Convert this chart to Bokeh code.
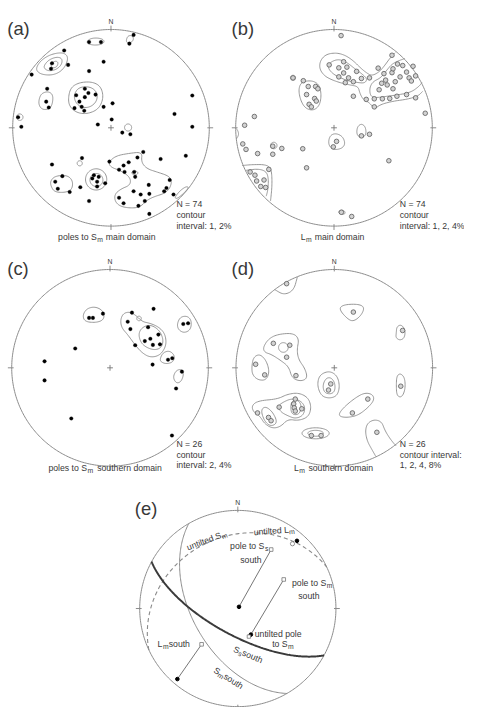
import numpy as np
from bokeh.plotting import figure
from bokeh.models import Range1d
from bokeh.embed import file_html
from bokeh.resources import INLINE
from bokeh.core.properties import value

# ---------------- DATA (net coordinates, primitive radius = 100, x = east, y = north) -------------
A_PTS = [(23.0,94.5),(18.7,85.6),(-22.3,87.2),(-10.2,87.2),(-47.6,78.7),(-60.0,65.6),(-61.0,60.0),(-43.6,64.0),
         (-7.5,67.2),(-22.3,57.7),(-80.7,54.1),(-64.9,39.7),(-65.9,26.6),(-63.3,20.7),(-26.6,39.7),(-23.0,35.4),
         (-35.4,33.1),(-15.7,33.8),(-26.6,31.2),(-32.1,26.6),(-29.8,21.3),(-37.1,20.0),(-27.2,17.4),(-7.5,21.3),
         (1.6,24.9),(82.7,32.8),(64.6,14.1),(-94.5,10.8),(-91.2,1.0),(0.7,8.5),(-13.4,3.3),(82.7,1.0),(11.5,-4.9),
         (19.7,-6.6),(32.8,-24.6),(76.1,-28.5),(50.5,-31.8),(-29.5,-30.8),(-60.0,-37.4),(-1.6,-34.4),(12.8,-38.4),
         (18.0,-35.1),(26.9,-30.2),(8.2,-42.6),(23.6,-44.9),(24.6,-49.9),(13.8,-44.9),(-17.4,-48.2),(-19.0,-51.5),
         (-12.5,-49.9),(-14.1,-54.8),(-5.9,-56.4),(-14.1,-59.7),(-49.5,-49.2),(-56.7,-54.8),(-54.1,-62.0),
         (-42.0,-65.3),(-31.2,-60.4),(38.4,-58.1),(59.7,-53.1),(56.4,-61.3),(54.1,-64.6),(30.2,-67.9),(23.0,-64.6),
         (39.0,-67.2),(8.2,-71.2),(12.8,-76.8),(27.9,-79.4),(34.4,-74.5),(-22.3,-74.5),(39.0,-87.6),(63.6,-67.9)]

A_CLOSED = [
    [(-24.6,87.9),(-20.7,90.9),(-14.1,91.5),(-8.2,90.2),(-6.6,87.2),(-10.2,84.6),(-17.4,84.0),(-23.3,85.3)],
    [(15.4,88.9),(17.1,93.5),(21.3,94.1),(23.3,90.2),(20.3,86.3),(16.4,86.3)],
    [(-75.8,61.7),(-71.5,68.2),(-63.3,73.8),(-53.5,76.4),(-46.9,75.8),(-43.6,71.5),(-45.9,63.3),(-51.8,56.7),
     (-60.0,53.5),(-69.9,54.1),(-75.4,57.4)],
    [(-68.2,63.3),(-63.3,69.2),(-55.1,72.2),(-49.5,70.5),(-50.2,64.0),(-56.1,59.0),(-63.3,57.7),(-67.6,60.0)],
    [(-61.3,64.9),(-56.7,68.2),(-53.5,66.6),(-55.1,61.7),(-60.0,60.7)],
    [(-73.1,29.8),(-70.5,35.1),(-64.0,37.1),(-59.0,33.8),(-59.4,24.6),(-62.6,19.0),(-69.9,18.4),(-73.5,23.3)],
    [(-43.6,29.8),(-41.0,41.0),(-32.1,46.2),(-19.0,46.9),(-10.2,42.0),(-7.5,30.5),(-12.5,19.0),(-23.9,14.1),
     (-34.4,15.1),(-42.0,21.3)],
    [(-37.7,33.8),(-32.8,41.3),(-21.3,42.0),(-14.1,36.4),(-14.1,27.2),(-21.3,20.7),(-30.5,20.7),(-36.4,26.2)],
    [(-61.7,-54.1),(-56.7,-48.9),(-44.3,-48.2),(-38.7,-54.1),(-39.7,-63.0),(-46.9,-65.9),(-57.4,-65.3),(-61.0,-59.7)],
    [(-2.6,-35.1),(4.9,-28.5),(18.7,-25.9),(31.8,-24.6),(30.8,-35.1),(36.7,-41.7),(46.6,-44.9),(58.7,-48.9),
     (62.0,-54.1),(59.7,-62.0),(54.1,-66.9),(44.3,-69.9),(36.7,-73.5),(29.2,-81.0),(18.7,-81.7),(8.9,-79.7),
     (3.9,-74.5),(3.9,-67.2),(10.5,-62.0),(18.7,-58.7),(20.3,-53.5),(17.1,-48.2),(8.9,-43.3),(-0.3,-40.0)],
    [(20.3,-45.6),(23.6,-43.6),(27.6,-44.9),(26.9,-47.6),(23.0,-47.9)],
    [(64.6,-71.2),(69.5,-64.6),(76.1,-59.7),(79.4,-60.4),(74.5,-66.3),(67.2,-72.2)],
]
A_LOOPS = [(-92.8,10.8,3.3),(17.4,0.3,3.6),(-31.8,-36.1,2.6),(-15.1,-52.5,10.8),(-14.8,-53.1,6.6)]

B_PTS = [(7.2,93.8),(-4.9,64.0),(4.9,61.0),(9.8,67.2),(13.1,61.7),(9.8,55.8),(4.9,51.8),(14.8,50.8),(19.7,46.9),
         (23.0,57.4),(27.9,50.2),(36.1,50.8),(44.9,60.7),(50.8,55.1),(52.5,48.5),(59.0,56.1),(60.0,60.0),(59.0,73.8),
         (64.6,64.9),(69.9,63.3),(73.8,56.7),(76.4,50.8),(78.7,47.6),(67.2,51.8),(62.3,46.9),(60.0,39.7),(54.1,43.6),
         (48.5,45.3),(45.9,38.7),(41.0,29.5),(32.8,28.9),(19.7,32.1),(11.5,45.9),(41.0,21.3),(49.2,29.5),(56.7,29.8),
         (64.0,32.1),(73.8,33.8),(83.0,30.5),(83.0,52.8),(80.4,62.6),(-41.7,50.8),(-31.2,47.9),(-26.2,42.0),
         (-18.7,42.0),(-16.4,39.7),(-27.9,33.8),(-19.7,29.8),(-18.0,27.2),(-25.3,23.9),(-23.0,21.3),(92.8,14.8),
         (-81.0,11.5),(-90.9,2.6),(27.9,-8.2),(36.1,-6.6),(2.6,-13.8),(-0.7,-19.4),(-92.8,-16.4),(-89.5,-22.0),
         (-77.7,-26.2),(-62.3,-18.7),(-53.1,-21.0),(-62.3,-26.9),(-31.8,-21.3),(55.8,-33.5),(-27.9,-40.7),
         (-66.3,-42.3),(-85.3,-44.9),(-80.4,-48.2),(-71.2,-53.1),(-78.7,-54.1),(-74.5,-59.7),(-69.5,-60.7),
         (7.5,-85.9),(18.0,-90.2)]

B_OPEN = [
    [(62.3,76.4),(57.4,71.5),(51.5,63.3),(45.9,56.7),(38.4,52.8),(32.8,56.1),(27.2,60.7),(19.7,68.2),(11.5,73.8),
     (2.3,76.4),(-8.2,74.8),(-14.1,68.2),(-14.8,60.0),(-9.8,52.8),(-1.6,48.5),(8.2,45.3),(16.4,43.6),(24.6,42.0),
     (26.2,35.4),(29.5,28.9),(36.1,25.6),(41.0,19.0),(47.6,23.9),(60.7,27.2),(73.8,28.9),(85.3,32.1),(90.2,37.1)],
    [(72.2,70.5),(65.6,68.2),(59.0,64.9),(53.5,58.4),(47.6,50.8),(39.4,46.9),(36.1,40.3),(37.1,32.1),(42.6,30.5),
     (54.1,32.1),(67.2,33.8),(78.7,36.4),(86.3,42.0),(89.5,45.9)],
    [(-93.5,-38.4),(-83.6,-37.4),(-68.9,-37.4),(-64.0,-41.7),(-63.0,-51.5),(-63.3,-63.0),(-64.6,-74.5)],
    [(-89.5,-43.3),(-77.1,-41.7),(-68.9,-44.3),(-66.6,-51.5),(-67.2,-63.0),(-68.9,-69.5)],
    [(-99.5,-0.7),(-97.7,-3.0),(-96.8,-7.2),(-99.4,-11.5)],
]
B_CLOSED = [
    [(-6.6,61.7),(-3.3,67.2),(4.9,69.9),(13.1,66.6),(21.3,60.0),(29.5,54.1),(33.8,49.5),(31.2,45.3),(23.0,46.2),
     (14.8,47.6),(6.6,50.8),(-1.6,55.1)],
    [(-36.1,39.7),(-32.8,46.9),(-22.0,48.2),(-14.8,43.6),(-12.8,33.1),(-14.8,22.3),(-21.3,17.4),(-29.5,20.0),(-34.4,28.9)],
    [(23.0,-7.2),(23.6,1.0),(27.9,4.3),(32.1,1.0),(32.8,-7.2),(27.9,-10.5)],
    [(-5.6,-12.8),(-3.3,-7.2),(2.3,-5.6),(8.9,-8.9),(11.5,-16.1),(8.2,-21.0),(0.0,-22.6),(-4.9,-18.7)],
    [(4.3,-85.9),(6.6,-83.6),(10.8,-84.3),(11.5,-87.6),(7.5,-88.2)],
]
B_LOOPS = [(-41.7,50.8,2.6),(-61.3,-18.0,3.3)]

C_PTS = [(-21.3,50.8),(-17.4,50.8),(-7.2,55.1),(22.3,56.1),(44.3,60.0),(18.0,46.9),(20.7,39.4),(38.7,41.3),
         (49.2,33.8),(41.0,29.5),(35.4,27.2),(43.6,23.3),(50.8,23.9),(25.6,23.0),(74.5,44.6),(79.4,45.3),
         (-35.4,19.7),(59.0,8.2),(63.3,9.8),(-66.6,6.6),(43.3,3.3),(-66.6,-12.8),(73.1,-3.9),(67.2,-21.0),
         (-39.4,-51.5),(63.0,-68.9)]
C_CLOSED = [
    [(-27.9,53.5),(-23.6,60.4),(-14.8,62.3),(-6.6,57.7),(-5.9,49.2),(-13.8,45.9),(-25.6,46.9)],
    [(10.5,47.9),(13.1,55.1),(19.7,57.1),(26.2,53.5),(32.8,46.9),(41.0,45.3),(49.9,41.3),(55.8,34.8),(57.4,24.9),
     (54.1,16.7),(48.5,11.8),(40.3,10.8),(32.8,15.1),(26.2,22.3),(18.0,33.8),(12.1,40.3)],
    [(28.9,34.8),(32.8,41.3),(41.0,44.0),(49.9,38.7),(54.4,28.9),(52.5,20.7),(45.9,18.0),(37.7,20.3),(31.2,25.6)],
    [(68.2,44.6),(71.5,51.8),(78.7,52.8),(83.0,47.9),(82.0,38.7),(75.4,35.4),(69.5,38.7)],
    [(50.8,9.2),(54.1,15.7),(60.7,17.4),(65.9,12.5),(64.3,5.9),(57.4,3.9),(51.8,5.9)],
    [(64.0,-9.5),(67.2,-2.6),(72.8,-1.3),(75.1,-6.6),(72.2,-14.4),(67.2,-15.7)],
]
C_LOOPS = [(29.5,50.2,2.3)]

D_PTS = [(-48.5,85.6),(19.4,56.7),(69.5,38.0),(-62.0,24.9),(-45.3,23.0),(-48.5,10.8),(-39.0,-7.9),(-80.0,3.6),
         (-70.8,-7.2),(-3.6,-16.4),(-5.9,-22.6),(67.6,-18.7),(34.1,-31.8),(-39.7,-31.8),(-56.1,-40.0),(-41.3,-36.7),
         (-40.7,-40.7),(-39.7,-44.0),(-33.1,-41.7),(-78.1,-45.9),(-66.9,-50.5),(-64.3,-53.8),(18.4,-45.9),
         (-23.3,-68.9),(-13.4,-68.9),(43.3,-65.6)]
D_OPEN = [
    [(-60.5,79.5),(-51.2,74.1),(-41.3,78.7),(-37.5,92.5)],
    [(42.3,-90.2),(38.0,-82.7),(33.5,-74.5),(31.5,-64.6),(33.5,-56.4),(40.7,-52.5),(48.2,-54.8),(51.2,-63.0),
     (55.4,-70.2),(60.4,-76.8),(63.0,-79.4)],
]
D_CLOSED = [
    [(4.6,60.0),(9.5,64.3),(24.3,64.9),(30.8,61.7),(27.6,53.5),(19.4,46.9),(12.8,50.2)],
    [(63.0,35.4),(63.6,42.0),(68.2,44.0),(72.2,38.7),(71.5,30.5),(66.9,27.9),(62.6,30.5)],
    [(-72.5,20.7),(-66.9,29.5),(-57.7,34.1),(-42.0,35.4),(-35.8,29.5),(-38.0,18.4),(-36.4,8.5),(-29.8,-0.7),
     (-27.2,-10.5),(-34.1,-13.8),(-43.0,-10.5),(-46.2,1.0),(-54.4,7.5),(-64.3,13.8),(-70.8,15.7)],
    [(-84.0,1.0),(-82.3,10.8),(-75.8,14.1),(-69.2,7.5),(-65.9,-3.9),(-69.2,-12.5),(-77.4,-12.5),(-83.3,-7.2)],
    [(-17.4,-17.7),(-15.1,-7.2),(-5.2,-3.0),(3.0,-7.9),(5.6,-18.7),(3.0,-28.5),(-5.2,-31.2),(-13.4,-28.5)],
    [(-11.8,-17.7),(-8.5,-10.5),(-3.3,-9.8),(0.7,-15.4),(0.7,-23.6),(-3.6,-26.9),(-10.2,-25.3)],
    [(63.0,-17.7),(63.6,-7.9),(67.6,-5.6),(71.8,-10.5),(72.2,-22.0),(68.6,-30.2),(63.6,-28.5)],
    [(4.6,-46.6),(10.5,-39.4),(21.0,-30.8),(30.8,-25.3),(39.0,-26.9),(40.7,-32.8),(34.1,-40.7),(24.3,-48.2),
     (14.4,-50.5),(6.2,-49.9)],
    [(-84.0,-38.4),(-77.4,-33.5),(-57.7,-31.8),(-47.9,-26.9),(-36.4,-25.3),(-26.6,-30.2),(-23.3,-40.0),(-26.2,-49.9),
     (-36.4,-53.8),(-47.2,-52.2),(-54.4,-59.7),(-62.6,-61.7),(-70.8,-57.1),(-75.8,-48.9),(-82.3,-44.9)],
    [(-57.7,-39.0),(-51.2,-34.4),(-43.0,-31.2),(-34.1,-33.5),(-29.5,-40.0),(-31.5,-48.5),(-39.7,-51.8),(-47.9,-48.5),(-54.4,-44.9)],
    [(-44.6,-40.0),(-43.0,-33.5),(-36.4,-32.8),(-33.1,-39.4),(-35.8,-47.6),(-43.0,-47.6)],
    [(-74.8,-43.3),(-70.2,-39.0),(-62.6,-44.9),(-57.7,-55.8),(-64.3,-59.7),(-70.8,-54.8)],
]
D_LOOPS = [(-51.8,20.7,4.9)]
D_ELLIPSES = [(-19.0,-66.6,13.8,5.6),(-19.0,-66.6,7.9,3.0)]

# panel (e): great circles as (dip direction, dip) in degrees
E_PLANES = {"untilted_Sm": (335.0, 27.0), "Ss_south": (208.5, 68.0), "Sm_south": (240.0, 52.0)}
# pole / lineation transport lines: from (open square) to (filled dot)
E_MOVES = {"pole_Ss": ((34.0, 60.1), (1.2, 1.7)),
           "pole_Sm": ((46.8, 29.6), (13.3, -26.6)),
           "Lm":      ((-36.9, -36.5), (-61.6, -71.9))}
E_UNTILTED_LM = (60.3, 69.0)
E_UNTILTED_LM_OPEN = (55.7, 66.0)
E_UNTILTED_POLE_SQ = (11.3, -28.6)

# ---------------- LAYOUT ----------------
GEOM = {"a": (114.3, 127.7, 101.7), "b": (345.0, 127.7, 101.7), "c": (113.3, 376.0, 101.7),
        "d": (345.3, 376.0, 101.7), "e": (245.5, 625.0, 101.5)}
SCALE = 464 / 480
FONT = "Liberation Sans"
TXT = "#383838"
GREY = "#8c8c8c"

p = figure(width=464, height=707, x_range=Range1d(0, 480), y_range=Range1d(727.4, -4.0),
           output_backend="svg", toolbar_location=None, x_axis_location=None, y_axis_location=None,
           min_border=0)
p.grid.visible = False
p.outline_line_color = None
p.background_fill_color = "white"


def net(panel, pts):
    cx, cy, R = GEOM[panel]
    a = np.asarray(pts, float)
    return cx + R * a[:, 0] / 100.0, cy - R * a[:, 1] / 100.0


def chaikin(pts, closed=True, it=3):
    P = np.asarray(pts, float)
    for _ in range(it):
        if closed:
            Q = np.roll(P, -1, axis=0)
            A = 0.75 * P + 0.25 * Q
            B = 0.25 * P + 0.75 * Q
            P = np.empty((2 * len(P), 2))
            P[0::2] = A
            P[1::2] = B
        else:
            Q = P[1:]
            A = 0.75 * P[:-1] + 0.25 * Q
            B = 0.25 * P[:-1] + 0.75 * Q
            M = np.empty((2 * len(A), 2))
            M[0::2] = A
            M[1::2] = B
            P = np.vstack([P[:1], M, P[-1:]])
    if closed:
        P = np.vstack([P, P[:1]])
    return P


def ellipse_pts(cx, cy, rx, ry, n=60):
    t = np.linspace(0, 2 * np.pi, n)
    return np.column_stack([cx + rx * np.cos(t), cy + ry * np.sin(t)])


def txt(x, y, s, size, align="left", angle=0.0, color=TXT, baseline="middle"):
    p.text(x=[x], y=[y], text=[s], text_font=value(FONT), text_font_size=f"{size * SCALE:.1f}px",
           text_align=align, text_baseline=baseline, angle=np.radians(angle), text_color=color)


def frame(panel):
    cx, cy, R = GEOM[panel]
    t = np.linspace(0, 2 * np.pi, 361)
    p.line(cx + R * np.cos(t), cy + R * np.sin(t), line_color=GREY, line_width=1.0)
    xs, ys = [], []
    for ang in (0, 90, 180, 270):
        a = np.radians(ang)
        xs.append([cx + (R - 2) * np.sin(a), cx + (R + 4) * np.sin(a)])
        ys.append([cy - (R - 2) * np.cos(a), cy - (R + 4) * np.cos(a)])
    p.multi_line(xs, ys, line_color=GREY, line_width=1.0)
    txt(cx, cy - R - 8.5, "N", 7, align="center")


def cross(panel):
    cx, cy, R = GEOM[panel]
    p.multi_line([[cx - 3, cx + 3], [cx, cx]], [[cy, cy], [cy - 3, cy + 3]], line_color="#777777", line_width=0.9)


def contours(panel, closed=(), openl=(), loops=(), ellipses=()):
    xs, ys = [], []
    for c in closed:
        P = chaikin(c, True)
        X, Y = net(panel, P)
        xs.append(list(X)); ys.append(list(Y))
    for c in openl:
        P = chaikin(c, False)
        X, Y = net(panel, P)
        xs.append(list(X)); ys.append(list(Y))
    for (ex, ey, r) in loops:
        X, Y = net(panel, ellipse_pts(ex, ey, r, r))
        xs.append(list(X)); ys.append(list(Y))
    for (ex, ey, rx, ry) in ellipses:
        X, Y = net(panel, ellipse_pts(ex, ey, rx, ry))
        xs.append(list(X)); ys.append(list(Y))
    p.multi_line(xs, ys, line_color=GREY, line_width=0.9)


def dots(panel, pts):
    X, Y = net(panel, pts)
    p.scatter(X, Y, marker="circle", size=3.6, fill_color="black", line_color="black", line_width=0.3)


def opens(panel, pts):
    X, Y = net(panel, pts)
    p.scatter(X, Y, marker="circle", size=4.6, fill_color="#d2d2d2", line_color="#5a5a5a", line_width=0.8)


# ---------------- panels a-d ----------------
for pn in "abcd":
    frame(pn)
    cross(pn)

contours("a", closed=A_CLOSED, loops=A_LOOPS)
dots("a", A_PTS)
contours("b", closed=B_CLOSED, openl=B_OPEN, loops=B_LOOPS)
opens("b", B_PTS)
contours("c", closed=C_CLOSED, loops=C_LOOPS)
dots("c", C_PTS)
contours("d", closed=D_CLOSED, openl=D_OPEN, loops=D_LOOPS, ellipses=D_ELLIPSES)
opens("d", D_PTS)

# panel letters
txt(7, 25, "(a)", 19)
txt(239, 25, "(b)", 19)
txt(7, 273, "(c)", 19)
txt(239, 273, "(d)", 19)
txt(139, 522, "(e)", 19)

# annotations
for (x0, y0, lines) in [(182, 207, ["N = 74", "contour", "interval: 1, 2%"]),
                        (413, 207, ["N = 74", "contour", "interval: 1, 2, 4%"]),
                        (182, 455, ["N = 26", "contour", "interval: 2, 4%"]),
                        (413, 455, ["N = 26", "contour interval:", "1, 2, 4, 8%"])]:
    for i, s in enumerate(lines):
        txt(x0, y0 + 11 * i, s, 9)

# captions with subscripts
txt(99.5, 241, "poles to S", 9, align="right"); txt(100, 243.5, "m", 7); txt(109, 241, "main domain", 9)
txt(315.5, 241, "L", 9, align="right"); txt(316, 243.5, "m", 7); txt(325, 241, "main domain", 9)
txt(89.5, 480, "poles to S", 9, align="right"); txt(90, 482.5, "m", 7); txt(100, 480, "southern domain", 9)
txt(308.5, 480, "L", 9, align="right"); txt(309, 482.5, "m", 7); txt(318.5, 480, "southern domain", 9)

# ---------------- panel e ----------------
frame("e")


def great_circle(dd, dip, n=181):
    dd = np.radians(dd); dp = np.radians(dip)
    t = np.linspace(0, np.pi, n)
    s = np.array([np.sin(dd - np.pi / 2), np.cos(dd - np.pi / 2), 0.0])
    d = np.array([np.sin(dd) * np.cos(dp), np.cos(dd) * np.cos(dp), np.sin(dp)])
    v = np.outer(np.cos(t), s) + np.outer(np.sin(t), d)
    trend = np.arctan2(v[:, 0], v[:, 1])
    plunge = np.arcsin(np.clip(v[:, 2], -1, 1))
    r = np.sqrt(2) * np.sin((np.pi / 2 - plunge) / 2)
    return np.column_stack([100 * r * np.sin(trend), 100 * r * np.cos(trend)])


X, Y = net("e", great_circle(*E_PLANES["untilted_Sm"]))
p.line(X, Y, line_color="#8a8a8a", line_width=1.1, line_dash="4 3")
X, Y = net("e", great_circle(*E_PLANES["Sm_south"]))
p.line(X, Y, line_color="#8a8a8a", line_width=1.0)
X, Y = net("e", great_circle(*E_PLANES["Ss_south"]))
p.line(X, Y, line_color="#3a3a3a", line_width=2.0)

starts = [v[0] for v in E_MOVES.values()]
ends = [v[1] for v in E_MOVES.values()]
SX, SY = net("e", starts)
EX, EY = net("e", ends)
p.segment(SX, SY, EX, EY, line_color="#666666", line_width=0.9)
p.scatter(SX, SY, marker="square", size=3.6, fill_color="white", line_color="#777777", line_width=0.8)
p.scatter(EX, EY, marker="circle", size=3.6, fill_color="black", line_color="black")
X, Y = net("e", [E_UNTILTED_LM_OPEN])
p.scatter(X, Y, marker="circle", size=4.2, fill_color="white", line_color="#777777", line_width=0.8)
X, Y = net("e", [E_UNTILTED_POLE_SQ])
p.scatter(X, Y, marker="square", size=3.4, fill_color="white", line_color="#777777", line_width=0.8)
X, Y = net("e", [E_UNTILTED_LM])
p.scatter(X, Y, marker="circle", size=3.6, fill_color="black", line_color="black")


def rot_label(x0, y0, parts, ang):
    """parts: list of (text, size, advance, sub)"""
    a = np.radians(ang)
    ux, uy = np.cos(a), -np.sin(a)
    nx, ny = np.sin(a), np.cos(a)
    dist = 0.0
    for s, size, adv, sub in parts:
        off = 2.2 if sub else 0.0
        txt(x0 + ux * dist + nx * off, y0 + uy * dist + ny * off, s, size, angle=ang)
        dist += adv


rot_label(193, 562, [("untilted S", 9, 37.5, False), ("m", 7, 6, True)], 20.6)
rot_label(262, 546, [("untilted L", 9, 36.5, False), ("m", 7, 6, True)], 4)
rot_label(241.5, 666.5, [("S", 9, 6.0, False), ("s", 7, 3.8, True), (" south", 9, 25, False)], -22.8)
rot_label(221.5, 688.0, [("S", 9, 6.0, False), ("m", 7, 6.0, True), (" south", 9, 25, False)], -31.8)

txt(273, 560, "pole to S", 9, align="right"); txt(273.5, 562.5, "s", 7)
txt(259, 575, "south", 9, align="center")
txt(337, 599, "pole to S", 9, align="right"); txt(337.5, 601.5, "m", 7)
txt(319, 612, "south", 9, align="center")
txt(263, 651, "untilted pole", 9)
txt(297, 662, "to S", 9, align="right"); txt(297.5, 664.5, "m", 7)
txt(167.5, 662, "L", 9, align="right"); txt(168, 664.5, "m", 7); txt(174, 662, "south", 9)

open("out.html", "w").write(file_html(p, INLINE))
